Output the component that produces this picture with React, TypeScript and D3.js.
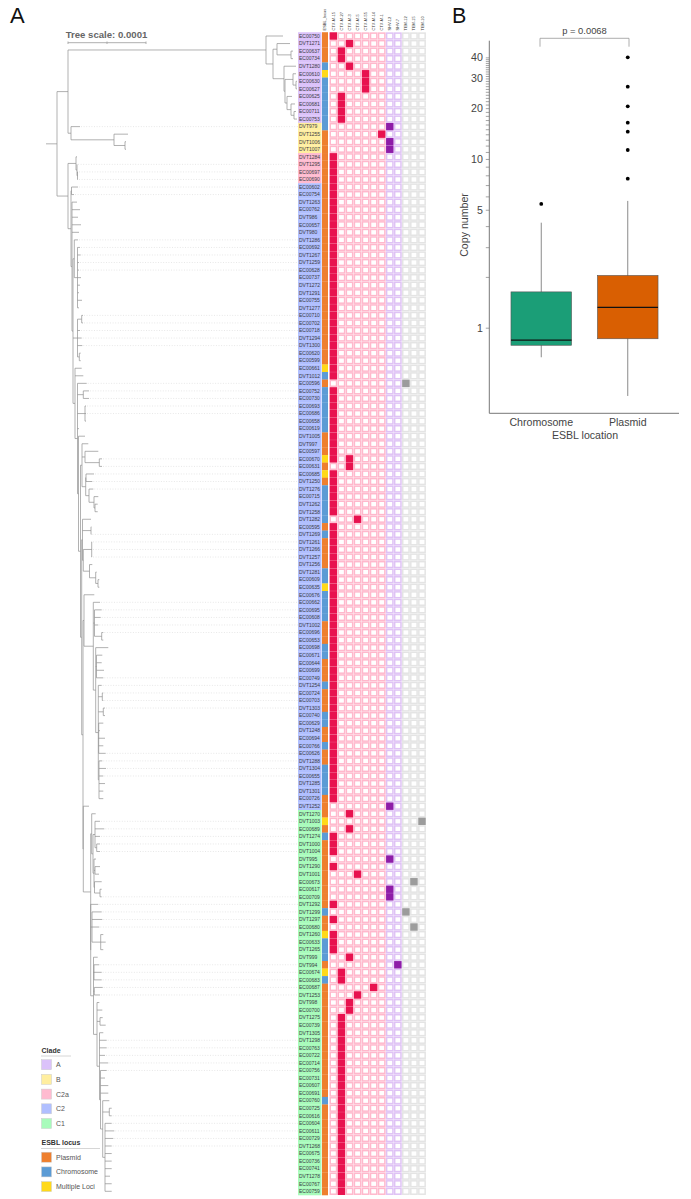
import React, { useEffect, useRef } from 'react'
import * as d3 from 'd3'

// ---- Panel A data ----
const rowLabels = [
  'EC00750', 'DVT1271', 'EC00637', 'EC00734', 'DVT1280', 'EC00610', 'EC00630', 'EC00627', 'EC00625', 'EC00681', 'EC00711', 'EC00753',
  'DVT979', 'DVT1255', 'DVT1006', 'DVT1007',
  'DVT1284', 'DVT1295', 'EC00697', 'EC00690',
  'EC00602', 'EC00754', 'DVT1263', 'EC00762', 'DVT986', 'EC00657', 'DVT980', 'DVT1286', 'EC00692', 'DVT1267', 'DVT1259', 'EC00628', 'EC00737',
  'DVT1272', 'DVT1291', 'EC00755', 'DVT1277', 'EC00710', 'EC00702', 'EC00718', 'DVT1294', 'DVT1300', 'EC00620', 'EC00599', 'EC00661', 'DVT1012',
  'EC00596', 'EC00752', 'EC00730', 'EC00693', 'EC00686', 'EC00658', 'EC00619', 'DVT1005', 'DVT997', 'EC00597', 'EC00670', 'EC00631', 'EC00685',
  'DVT1250', 'DVT1276', 'EC00715', 'DVT1262', 'DVT1258', 'DVT1282', 'EC00595', 'DVT1269', 'DVT1261', 'DVT1266', 'DVT1257', 'DVT1256', 'DVT1281',
  'EC00609', 'EC00635', 'EC00676', 'EC00662', 'EC00695', 'EC00608', 'DVT1002', 'EC00696', 'EC00653', 'EC00698', 'EC00671', 'EC00644', 'EC00699',
  'EC00749', 'DVT1254', 'EC00724', 'EC00703', 'DVT1303', 'EC00740', 'EC00629', 'DVT1248', 'EC00694', 'EC00766', 'EC00626', 'DVT1288', 'DVT1304',
  'EC00655', 'DVT1285', 'DVT1301', 'EC00726', 'DVT1252',
  'DVT1270', 'DVT1003', 'EC00689', 'DVT1274', 'DVT1000', 'DVT1004', 'DVT995', 'DVT1290', 'DVT1001', 'EC00673', 'EC00617', 'EC00709', 'DVT1292',
  'DVT1299', 'DVT1297', 'EC00680', 'DVT1260', 'EC00633', 'DVT1265', 'DVT999', 'DVT994', 'EC00674', 'EC00683', 'EC00687', 'DVT1253', 'DVT998',
  'EC00700', 'DVT1275', 'EC00739', 'DVT1305', 'DVT1298', 'EC00763', 'EC00722', 'EC00714', 'EC00756', 'EC00731', 'EC00607', 'EC00691', 'EC00760',
  'EC00725', 'EC00616', 'EC00604', 'EC00611', 'EC00729', 'DVT1268', 'EC00675', 'EC00736', 'EC00741', 'DVT1278', 'EC00767', 'EC00759',
]

const cladeRuns: [string, number][] = [['A', 12], ['B', 4], ['C2a', 4], ['C2', 83], ['C1', 51]]

const locusRuns: [string, number][] = [
  ['Plasmid', 4], ['Chromosome', 1], ['Multiple Loci', 1], ['Chromosome', 7], ['Plasmid', 31], ['Multiple Loci', 1], ['Chromosome', 1],
  ['Plasmid', 1], ['Chromosome', 6], ['Plasmid', 3], ['Multiple Loci', 1], ['Plasmid', 1], ['Multiple Loci', 1], ['Plasmid', 1],
  ['Chromosome', 5], ['Plasmid', 1], ['Chromosome', 1], ['Plasmid', 4], ['Chromosome', 2], ['Multiple Loci', 1], ['Chromosome', 4],
  ['Plasmid', 3], ['Chromosome', 2], ['Plasmid', 3], ['Chromosome', 1], ['Plasmid', 3], ['Chromosome', 2], ['Plasmid', 2], ['Chromosome', 1],
  ['Plasmid', 2], ['Chromosome', 4], ['Plasmid', 3], ['Multiple Loci', 1], ['Plasmid', 1], ['Chromosome', 1], ['Plasmid', 9], ['Chromosome', 1],
  ['Plasmid', 2], ['Multiple Loci', 1], ['Chromosome', 3], ['Plasmid', 1], ['Multiple Loci', 1], ['Chromosome', 1], ['Plasmid', 15],
  ['Chromosome', 1], ['Plasmid', 12],
]

const genes = ['CTX-M-15', 'CTX-M-27', 'CTX-M-3', 'CTX-M-5', 'CTX-M-55', 'CTX-M-14', 'CTX-M-1', 'SHV-12', 'SHV-7', 'TEM-12', 'TEM-15', 'TEM-10']

// gene columns carried by each run of consecutive rows
const geneRuns: [number[], number][] = [
  [[0], 1], [[2], 1], [[1], 2], [[2], 1], [[4], 3], [[1], 4], [[7], 1], [[6], 1], [[7], 2], [[0], 30], [[9], 1], [[0], 9], [[0, 2], 1], [[2], 1],
  [[0], 6], [[3], 1], [[0], 37], [[7], 1], [[2], 1], [[11], 1], [[2], 1], [[0], 3], [[7], 1], [[0], 1], [[3], 1], [[10], 1], [[7], 2], [[0], 1],
  [[9], 1], [[0], 1], [[10], 1], [[0], 3], [[2], 1], [[8], 1], [[1], 2], [[5], 1], [[3], 1], [[2], 2], [[1], 24],
]

// rows whose dotted leader survives in the picture
const leaderRuns: [number, number][] = [
  [12, 12], [17, 21], [27, 31], [37, 41], [46, 50], [56, 60], [66, 69], [75, 79], [85, 89], [95, 98], [104, 108], [114, 118], [123, 127], [133, 137], [143, 147],
]

// Tree as Newick, leaves in row order. Numbers are divergence from the root stub, 78 units = the scale bar
const cladeA = '(:237,((:244,(:247,:247):245):231,(:250,((:250,(:251,:251):250):247,(:246,(:249,(:250,:251):248):245):241):239):238):227):220'
const cladeB = '(:34,(:82,(:80,:80):79):68):25'
const cladeC2a = '(:31,(:31,(:32,:32):31.5):31):30'
const cb7 = '(:65.7,:68.3,:67.3,:65.7,:65.7,:65.7,:65.7,:64,:65.7,:65.7):59'
const cb6 = `(:63.3,(:65.7,:65.7):63.3,${cb7}):56.7`
const cb5 = `(:60.7,:59,:62.3,:62.3,${cb6}):54.5`
const cb4 = `(:57.3,:60.7,:60.7,:59,:62.3,${cb5}):53.5`
const cb3 = `(:53.3,:56.3,(:56.7,:59.7):54,${cb4}):51`
const cb2 = `(:51.7,(:53.3,:55.7,:55.7):48,(:56.7,:54):48.3,${cb3}):47.5`
const cb = `(:52.3,(:55.7,:56.3,:53.3,(:57.3,:59.7,:57.3):54.7):46,${cb2}):44.7`
const ca3 = '(:54,:58.3,:54,(:54,:54):50.7):49'
const ca4 = '(:50,(:54,:53):49,(:55.7,(:55.7,:55.7):54):48.5):48'
const ca = `(:49.7,(${ca3},${ca4}):47):45.7`
const cladeC1 = `(${ca},${cb}):44.7`
const k5 = '(:55.7,(:57.3,:57.3):56.3,(:59,:59):57.3,(:57.3,:54,:59,:57.3,:59.7):52.7,(:56.3,:60,:57.3,:59,:57.3,:57.3):53):52.3'
const k4 = `(:62.3,(:56.3,:55.7,:58,:57.3):50.5,${k5}):49.7`
const k2 = `(:54,(:55.7,:54.7,:52.3,(:57.3,:57.3):55.7):48.5,${k4}):47.3`
const k = `(:48.3,${k2}):38`
const z = `(:43,${cladeC1}):37.3`
const p = `(${k},${z}):37`
const w2 = '(:45,(:45.3,:45.3):45,((:46,:46,:46):45.7,(:46.3,(:50.7,(:53.3,:53.3):52):49.7):43.5):37.3):36.5'
const vc = `(${w2},${p}):35.7`
const w1 = '(:42.3,(:52.3,(:56,:56):53.3):39,((:48,:46.3):40,(:47.3,(:52.3,(:51.7,:51.7):49):48):43):39.7):36'
const v = `(:39,(${w1},${vc}):34.5):32.5`
const t = `(:40.7,(:43,:43):37.3,(:40,:40,:40):39,:33,${v}):31.5`
const s = `(:35.7,:37.3,${t}):29`
const r = '(:32,(:34,:34.7,:33,:33,:35,:34,:33,:36,:33):31.5):28.3'
const r3 = '((:37,:37):35.7,:34,:35.7,:36.3,(:34.7,:34.7):33.3):31.5'
const q = `(${r},${r3},${s}):27`
const n2 = `(:31,:34,:32,:35,:33,${q}):26`
const n1 = `((:32,:28):25.5,${n2}):25`
const treeNewick = `((${cladeA},${cladeB}):22,(${cladeC2a},${n1}):22):11`

// ---- Panel B data ----
const locations = ['Chromosome', 'Plasmid']
const boxStats = [
  { location: 'Chromosome', low: 0.668, q1: 0.787, median: 0.845, q3: 1.63, high: 4.19 },
  { location: 'Plasmid', low: 0.394, q1: 0.86, median: 1.32, q3: 2.04, high: 5.64 },
]
const outliers = [
  { location: 'Chromosome', value: 5.41 },
  { location: 'Plasmid', value: 7.64 },
  { location: 'Plasmid', value: 11.3 },
  { location: 'Plasmid', value: 14.5 },
  { location: 'Plasmid', value: 16.4 },
  { location: 'Plasmid', value: 20.5 },
  { location: 'Plasmid', value: 26.8 },
  { location: 'Plasmid', value: 40 },
]
const copyTickLabels = [1, 5, 10, 20, 30, 40]
const copyMinorTicks = d3.range(1, 41)

const cladeColors = { A: '#DBC2FA', B: '#FFEE9F', C2a: '#FFBBD0', C2: '#B0BFFF', C1: '#A8FBBB' }
const locusColors = { Plasmid: '#EE7F2E', Chromosome: '#5B9BD5', 'Multiple Loci': '#FFD91A' }
const FONT = '"Liberation Sans", Arial, sans-serif'

type TreeNode = { length: number; children?: TreeNode[] }

function parseNewick(text: string): TreeNode {
  let i = 0
  function readNode(): TreeNode {
    const node: TreeNode = { length: 0 }
    if (text[i] === '(') {
      node.children = []
      i++
      do {
        node.children.push(readNode())
      } while (text[i++] === ',')
    }
    i++ // the colon
    const start = i
    while (i < text.length && /[0-9.]/.test(text[i])) i++
    node.length = Number(text.slice(start, i))
    return node
  }
  return readNode()
}

function expandRuns<T>(runs: [T, number][]): T[] {
  return runs.flatMap(([value, count]) => d3.range(count).map(() => value))
}

function drawTree(g, rowY, stripX) {
  const treeX = d3.scaleLinear().domain([0, 78]).range([46, 124])
  const root = d3.hierarchy(parseNewick(treeNewick), (d) => d.children)
  const leaves = root.leaves()

  root.eachAfter((node) => {
    if (node.children) {
      node.y = (node.children[0].y + node.children[node.children.length - 1].y) / 2
    } else {
      node.y = rowY(leaves.indexOf(node))
    }
  })

  const leaderRows = new Set(leaderRuns.flatMap(([a, b]) => d3.range(a, b + 1)))
  g.append('g')
    .selectAll('line')
    .data(leaves.filter((_, i) => leaderRows.has(i)))
    .join('line')
    .attr('x1', (d) => treeX(d.data.length) + 1)
    .attr('x2', stripX)
    .attr('y1', (d) => d.y)
    .attr('y2', (d) => d.y)
    .attr('stroke', '#d6d6d6')
    .attr('stroke-width', 0.6)
    .attr('stroke-dasharray', '1 1.6')

  const branchPath = (node) => {
    const x = treeX(node.data.length)
    const px = node.parent ? treeX(node.parent.data.length) : treeX(0)
    let d = `M${px},${node.y}H${x}`
    if (node.children) {
      d += `M${x},${node.children[0].y}V${node.children[node.children.length - 1].y}`
    }
    return d
  }
  g.append('path')
    .attr('d', root.descendants().map(branchPath).join(''))
    .attr('fill', 'none')
    .attr('stroke', '#8f8f8f')
    .attr('stroke-width', 0.7)

  // scale bar
  const bar = g.append('g').attr('stroke', '#a6a6a6').attr('stroke-width', 0.9)
  bar.append('line').attr('x1', treeX(22)).attr('x2', treeX(100)).attr('y1', 42.7).attr('y2', 42.7)
  ;[22, 61, 100].forEach((t) => {
    bar.append('line').attr('x1', treeX(t)).attr('x2', treeX(t)).attr('y1', 41.5).attr('y2', 44)
  })
  g.append('text')
    .attr('x', treeX(61) - 0.5)
    .attr('y', 37.5)
    .attr('text-anchor', 'middle')
    .attr('font-size', 9.6)
    .attr('font-weight', 'bold')
    .attr('fill', '#666')
    .text('Tree scale: 0.0001')
}

function drawHeatmap(g, rowY, rowStep) {
  const clades = expandRuns(cladeRuns)
  const loci = expandRuns(locusRuns)
  const hits = expandRuns(geneRuns)
  const stripWidth = 23.5

  const rows = g.append('g')
  rows.selectAll('rect.clade')
    .data(rowLabels)
    .join('rect')
    .attr('class', 'clade')
    .attr('x', 298)
    .attr('y', (_, i) => rowY(i) - rowStep / 2)
    .attr('width', stripWidth)
    .attr('height', rowStep + 0.2)
    .attr('fill', (_, i) => cladeColors[clades[i]])
  rows.selectAll('text')
    .data(rowLabels)
    .join('text')
    .attr('x', 299)
    .attr('y', (_, i) => rowY(i) + 1.8)
    .attr('font-size', 5)
    .attr('fill', '#3c3c44')
    .text((d) => d)
  rows.selectAll('rect.locus')
    .data(rowLabels)
    .join('rect')
    .attr('class', 'locus')
    .attr('x', 322)
    .attr('y', (_, i) => rowY(i) - rowStep / 2)
    .attr('width', 6)
    .attr('height', rowStep + 0.2)
    .attr('fill', (_, i) => locusColors[loci[i]])

  const geneX = d3.scalePoint().domain(genes).range([333.4, 422])
  const stroke = (gene) => (gene.startsWith('CTX') ? '#FFB8CC' : gene.startsWith('SHV') ? '#DFC2F5' : '#E4E4E4')
  const fill = (gene) => (gene.startsWith('CTX') ? '#E8124F' : gene.startsWith('SHV') ? '#8E1DA8' : '#9C9C9C')

  genes.forEach((gene, col) => {
    const column = g.append('g')
    column.selectAll('rect.cell')
      .data(rowLabels)
      .join('rect')
      .attr('class', 'cell')
      .attr('x', geneX(gene) - 3.15)
      .attr('y', (_, i) => rowY(i) - 2.9)
      .attr('width', 6.3)
      .attr('height', 5.8)
      .attr('fill', '#fff')
      .attr('stroke', stroke(gene))
      .attr('stroke-width', 1.5)
    column.selectAll('rect.hit')
      .data(d3.range(rowLabels.length).filter((i) => hits[i].includes(col)))
      .join('rect')
      .attr('class', 'hit')
      .attr('x', geneX(gene) - 3.7)
      .attr('y', (i) => rowY(i) - rowStep / 2 + 0.1)
      .attr('width', 7.4)
      .attr('height', rowStep - 0.2)
      .attr('fill', fill(gene))
  })

  const headers = ['ESBL_locus', ...genes]
  g.append('g')
    .selectAll('text')
    .data(headers)
    .join('text')
    .attr('transform', (d) => `translate(${d === 'ESBL_locus' ? 326 : geneX(d) + 1.5},30.5) rotate(-90)`)
    .attr('font-size', 4)
    .attr('fill', '#333')
    .text((d) => d)
}

function drawLegend(g) {
  const legends = [
    { title: 'Clade', y: 1050, rule: 71, items: Object.entries(cladeColors) },
    { title: 'ESBL locus', y: 1142.5, rule: 100, items: Object.entries(locusColors) },
  ]
  legends.forEach(({ title, y, rule, items }) => {
    g.append('text').attr('x', 41.5).attr('y', y + 2.5).attr('font-size', 7).attr('font-weight', 'bold').attr('fill', '#333').text(title)
    g.append('line').attr('x1', 41).attr('x2', rule).attr('y1', y + 6).attr('y2', y + 6).attr('stroke', '#ccc').attr('stroke-width', 0.8)
    items.forEach(([name, color], i) => {
      const cy = y + 14.7 * (i + 1)
      g.append('rect').attr('x', 41.5).attr('y', cy - 5).attr('width', 10).attr('height', 10).attr('fill', color).attr('stroke', '#ccc').attr('stroke-width', 0.5)
      g.append('text').attr('x', 56).attr('y', cy + 2.4).attr('font-size', 7).attr('fill', '#555').text(name)
    })
  })
}

function drawBoxplot(g) {
  const y = d3.scaleLog().domain([0.311, 50.2]).range([413.3, 40.7])
  const x = d3.scaleBand().domain(locations).range([498, 671]).paddingInner(0.3).paddingOuter(0.15)
  const boxFill = d3.scaleOrdinal().domain(locations).range(['#1B9E77', '#D95F02'])
  const axisLeft = 489.3
  const axisBottom = 413.3

  const yAxis = d3
    .axisLeft(y)
    .tickValues(copyMinorTicks)
    .tickSize(3.5)
    .tickFormat((d) => (copyTickLabels.includes(d) ? String(d) : ''))
  const yg = g.append('g').attr('transform', `translate(${axisLeft},0)`).call(yAxis)
  yg.selectAll('path').remove()
  yg.selectAll('line').attr('stroke', '#666').attr('stroke-width', 0.6)
  yg.selectAll('text').attr('font-family', FONT).attr('font-size', 10.6).attr('fill', '#444').attr('x', -6.5)

  g.append('line').attr('x1', axisLeft).attr('x2', axisLeft).attr('y1', y(50.2)).attr('y2', axisBottom).attr('stroke', '#777').attr('stroke-width', 1)
  g.append('line').attr('x1', axisLeft).attr('x2', 679).attr('y1', axisBottom).attr('y2', axisBottom).attr('stroke', '#777').attr('stroke-width', 1)

  const center = (name) => x(name) + x.bandwidth() / 2

  boxStats.forEach((d) => {
    const cx = center(d.location)
    g.append('line').attr('x1', cx).attr('x2', cx).attr('y1', y(d.high)).attr('y2', y(d.low)).attr('stroke', '#8a8a8a').attr('stroke-width', 1)
    g.append('rect')
      .attr('x', x(d.location))
      .attr('y', y(d.q3))
      .attr('width', x.bandwidth())
      .attr('height', y(d.q1) - y(d.q3))
      .attr('fill', boxFill(d.location))
      .attr('stroke', '#555')
      .attr('stroke-width', 0.6)
    g.append('line')
      .attr('x1', x(d.location))
      .attr('x2', x(d.location) + x.bandwidth())
      .attr('y1', y(d.median))
      .attr('y2', y(d.median))
      .attr('stroke', '#111')
      .attr('stroke-width', 1.2)
  })

  g.append('g')
    .selectAll('circle')
    .data(outliers)
    .join('circle')
    .attr('cx', (d) => center(d.location))
    .attr('cy', (d) => y(d.value))
    .attr('r', 1.9)
    .attr('fill', '#000')

  const text = (tx, ty, label) =>
    g.append('text').attr('x', tx).attr('y', ty).attr('text-anchor', 'middle').attr('font-size', 10.6).attr('fill', '#444').text(label)

  locations.forEach((name) => text(center(name), 426, name))
  text(585, 438.5, 'ESBL location')
  text(0, 0, 'Copy number').attr('transform', 'translate(468,225) rotate(-90)')

  // significance bracket
  g.append('path')
    .attr('d', d3.line()([[540, 46.7], [540, 38.3], [629, 38.3], [629, 46.7]]))
    .attr('fill', 'none')
    .attr('stroke', '#999')
    .attr('stroke-width', 0.8)
  text(584.5, 34.3, 'p = 0.0068').attr('font-size', 9.4)
}

function App() {
  const chartRef = useRef(null)

  useEffect(() => {
    const svg = d3.select(chartRef.current)
    svg.selectAll('*').remove()

    const rowStep = (1191.3 - 36) / (rowLabels.length - 1)
    const rowY = d3.scaleLinear().domain([0, rowLabels.length - 1]).range([36, 1191.3])

    drawTree(svg.append('g'), rowY, 298)
    drawHeatmap(svg.append('g'), rowY, rowStep)
    drawLegend(svg.append('g'))
    drawBoxplot(svg.append('g'))

    svg.append('text').attr('x', 10).attr('y', 23).attr('font-size', 22).attr('fill', '#111').text('A')
    svg.append('text').attr('x', 452).attr('y', 22.7).attr('font-size', 21.5).attr('fill', '#111').text('B')
  }, [])

  return (
    <svg
      ref={chartRef}
      width={691}
      height={1199}
      style={{ position: 'absolute', left: 0, top: 0, background: '#fff' }}
      fontFamily={FONT}
    />
  )
}

export default App
